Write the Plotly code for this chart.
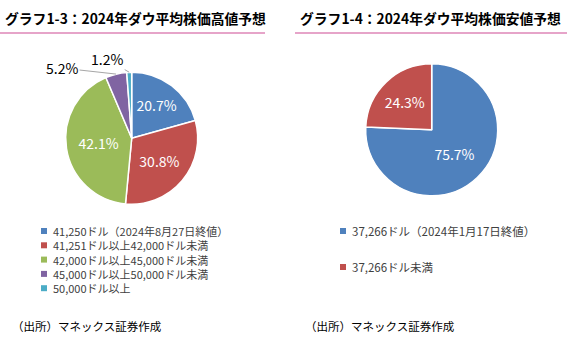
import math
import plotly.graph_objects as go

W, H = 567, 344

# ---------------- data ----------------
left_title = "グラフ1-3：2024年ダウ平均株価高値予想"
left_labels = [
    "41,250ドル（2024年8月27日終値）",
    "41,251ドル以上42,000ドル未満",
    "42,000ドル以上45,000ドル未満",
    "45,000ドル以上50,000ドル未満",
    "50,000ドル以上",
]
left_values = [20.7, 30.8, 42.1, 5.2, 1.2]
left_colors = ["#4F81BD", "#C0504D", "#9BBB59", "#8064A2", "#4BACC6"]

right_title = "グラフ1-4：2024年ダウ平均株価安値予想"
right_labels = [
    "37,266ドル（2024年1月17日終値）",
    "37,266ドル未満",
]
right_values = [75.7, 24.3]
right_colors = ["#4F81BD", "#C0504D"]

source_text = "（出所）マネックス証券作成"

# ---------------- layout helpers ----------------
FONT = "Noto Sans CJK JP"
PINK = "#E6A4C9"


def px(x):
    return x / W


def py(y):
    return 1 - y / H


def domain(cx, cy, r):
    return dict(x=[px(cx - r), px(cx + r)], y=[py(cy + r), py(cy - r)])


L_CX, L_CY, L_R = 131.7, 138.2, 66
R_CX, R_CY, R_R = 431.7, 129.8, 66

fig = go.Figure()


def add_pie(labels, values, colors, cx, cy, r, inside_flags):
    fig.add_trace(go.Pie(
        labels=labels,
        values=values,
        marker=dict(colors=colors, line=dict(color="white", width=1.5)),
        sort=False,
        direction="clockwise",
        rotation=0,
        domain=domain(cx, cy, r),
        texttemplate=["%{value:.1f}%" if f else "" for f in inside_flags],
        textposition=["inside" if f else "none" for f in inside_flags],
        insidetextorientation="horizontal",
        insidetextfont=dict(family=FONT, size=14, color="white"),
        hoverinfo="label+value",
        showlegend=False,
    ))


left_inside = [v >= 10 for v in left_values]
add_pie(left_labels, left_values, left_colors, L_CX, L_CY, L_R, left_inside)
add_pie(right_labels, right_values, right_colors, R_CX, R_CY, R_R,
        [True for _ in right_values])

annotations = []
shapes = []

# outside labels with leader lines for the small slices (left pie)
total = sum(left_values)
cum = 0
outside_offsets = {3: (-54, -6), 4: (-22, -13)}
for i, v in enumerate(left_values):
    mid = (cum + v / 2) / total * 2 * math.pi
    cum += v
    if left_inside[i]:
        continue
    ex = L_CX + L_R * math.sin(mid)
    ey = L_CY - L_R * math.cos(mid)
    ax, ay = outside_offsets.get(i, (-30, -10))
    annotations.append(dict(
        x=px(ex), y=py(ey), xref="paper", yref="paper",
        text=f"{v:.1f}%", showarrow=True, arrowhead=0, arrowwidth=1,
        arrowcolor="#A6A6A6", ax=ax, ay=ay, standoff=0,
        font=dict(family=FONT, size=14, color="#000000"),
    ))

# titles and pink rules
for txt, x0, lx0, lx1 in [(left_title, 3, 0, 265), (right_title, 298, 295, 567)]:
    annotations.append(dict(
        x=px(x0), y=py(18), xref="paper", yref="paper", xanchor="left",
        yanchor="middle", text=f"<b>{txt}</b>", showarrow=False,
        font=dict(family=FONT, size=13.8, color="#000000"),
    ))
    shapes.append(dict(type="line", xref="paper", yref="paper",
                       x0=px(lx0), x1=px(lx1), y0=py(33), y1=py(33),
                       line=dict(color=PINK, width=2)))


# legends: one multi-line text block per chart, plus square markers
def add_legend(labels, colors, mx, tx, y0, step, fsize):
    n = len(labels)
    ys = [y0 + step * k for k in range(n)]
    for col, y in zip(colors, ys):
        s = 3
        shapes.append(dict(type="rect", xref="paper", yref="paper",
                           x0=px(mx - s), x1=px(mx + s), y0=py(y + s), y1=py(y - s),
                           fillcolor=col, line=dict(width=0)))
    if abs(step - 1.3 * fsize) < 0.5:
        annotations.append(dict(
            x=px(tx), y=py((ys[0] + ys[-1]) / 2), xref="paper", yref="paper",
            xanchor="left", yanchor="middle", align="left",
            text="<br>".join(labels), showarrow=False,
            font=dict(family=FONT, size=fsize, color="#404040"),
        ))
    else:
        for lab, y in zip(labels, ys):
            annotations.append(dict(
                x=px(tx), y=py(y), xref="paper", yref="paper", xanchor="left",
                yanchor="middle", text=lab, showarrow=False,
                font=dict(family=FONT, size=fsize, color="#404040"),
            ))


add_legend(left_labels, left_colors, 44, 51, 231, 14.3, 11)
add_legend(right_labels, right_colors, 343, 350, 231, 36, 11.5)

# source notes
for x0 in (10, 303):
    annotations.append(dict(
        x=px(x0), y=py(326), xref="paper", yref="paper", xanchor="left",
        yanchor="middle", text=source_text, showarrow=False,
        font=dict(family=FONT, size=11.5, color="#000000"),
    ))

fig.update_layout(
    width=W, height=H,
    margin=dict(l=0, r=0, t=0, b=0),
    paper_bgcolor="white", plot_bgcolor="white",
    annotations=annotations, shapes=shapes,
    font=dict(family=FONT),
)

fig.write_html("out.html")
